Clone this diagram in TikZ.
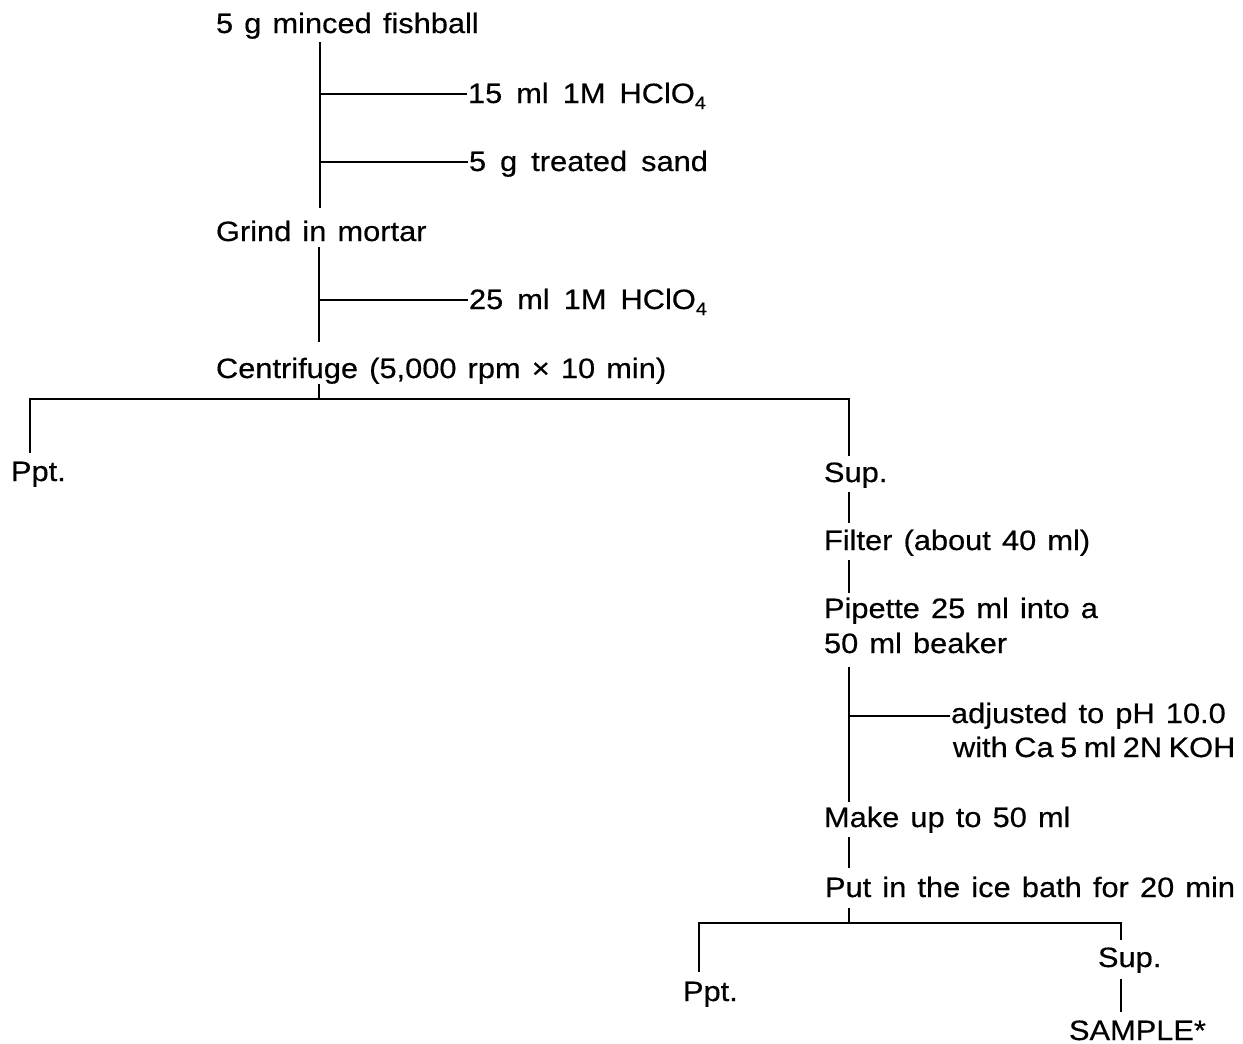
\documentclass[tikz,border=0pt]{standalone}
\usepackage{fontspec}
\setmainfont[FakeStretch=1.1,WordSpace=1.3,FakeBold=0.4]{Liberation Sans}
\newcommand{\subfour}{\raisebox{-6pt}{\fontsize{18}{18}\selectfont 4}}
\begin{document}
\begin{tikzpicture}[x=1pt,y=-1pt,line width=2pt,
  lbl/.style={anchor=base west,inner sep=0pt,font=\fontsize{28}{32}\selectfont},
  widesp/.style={execute at begin node={\spaceskip=14pt\relax}},
  tightsp/.style={execute at begin node={\spaceskip=6.5pt\relax}}]
\useasboundingbox[fill=white] (0,0) rectangle (1243,1044);
% texts
\node[lbl] (t1) at (215,33) {5 g minced fishball};
\node[lbl,widesp] (a1) at (467,103) {15 ml 1M HClO\subfour};
\node[lbl,widesp] (a2) at (468,171) {5 g treated sand};
\node[lbl] (t2) at (215,241) {Grind in mortar};
\node[lbl,widesp] (a3) at (468,309) {25 ml 1M HClO\subfour};
\node[lbl] (t3) at (215,378) {Centrifuge (5,000 rpm × 10 min)};
\node[lbl] (p1) at (10,481) {Ppt.};
\node[lbl] (u1) at (823,482) {Sup.};
\node[lbl] (t4) at (823,550) {Filter (about 40 ml)};
\node[lbl] (t5) at (823,618) {Pipette 25 ml into a};
\node[lbl] (t5b) at (823,653) {50 ml beaker};
\node[lbl] (a4) at (950,723) {adjusted to pH 10.0};
\node[lbl,tightsp] (a4b) at (952,757) {with Ca 5 ml 2N KOH};
\node[lbl] (t6) at (823,827) {Make up to 50 ml};
\node[lbl] (t7) at (824,897) {Put in the ice bath for 20 min};
\node[lbl] (p2) at (682,1001) {Ppt.};
\node[lbl] (u2) at (1097,967) {Sup.};
\node[lbl] (t8) at (1068,1040) {SAMPLE*};
% junction coordinates
\coordinate (s1a) at (320,42);  \coordinate (s1b) at (320,208);
\coordinate (j1) at (320,94);   \coordinate (j2) at (320,162);
\coordinate (s2a) at (319,247); \coordinate (s2b) at (319,342);
\coordinate (j3) at (319,300);
\coordinate (c1) at (319,384);  \coordinate (c2) at (319,399);
\coordinate (L1) at (30,453);   \coordinate (L0) at (30,399);
\coordinate (R0) at (849,399);  \coordinate (R1) at (849,456);
\coordinate (f1) at (849,492);  \coordinate (f2) at (849,523);
\coordinate (g1) at (849,560);  \coordinate (g2) at (849,593);
\coordinate (h1) at (849,667);  \coordinate (h2) at (849,802);
\coordinate (j4) at (849,716);
\coordinate (k1) at (849,837);  \coordinate (k2) at (849,868);
\coordinate (m1) at (849,908);  \coordinate (m2) at (849,923);
\coordinate (PL1) at (699,972); \coordinate (PL0) at (699,923);
\coordinate (PR0) at (1121,923);\coordinate (PR1) at (1121,940);
\coordinate (q1) at (1121,979); \coordinate (q2) at (1121,1012);
% connectors
\draw (s1a) -- (s1b);
\draw (j1) -- (j1 -| a1.west);
\draw (j2) -- (j2 -| a2.west);
\draw (s2a) -- (s2b);
\draw (j3) -- (j3 -| a3.west);
\draw (c1) -- (c2);
\draw (L1) -- (L0) -- (R0) -- (R1);
\draw (f1) -- (f2);
\draw (g1) -- (g2);
\draw (h1) -- (h2);
\draw (j4) -- (j4 -| a4.west);
\draw (k1) -- (k2);
\draw (m1) -- (m2);
\draw (PL1) -- (PL0) -- (PR0) -- (PR1);
\draw (q1) -- (q2);
\end{tikzpicture}
\end{document}
